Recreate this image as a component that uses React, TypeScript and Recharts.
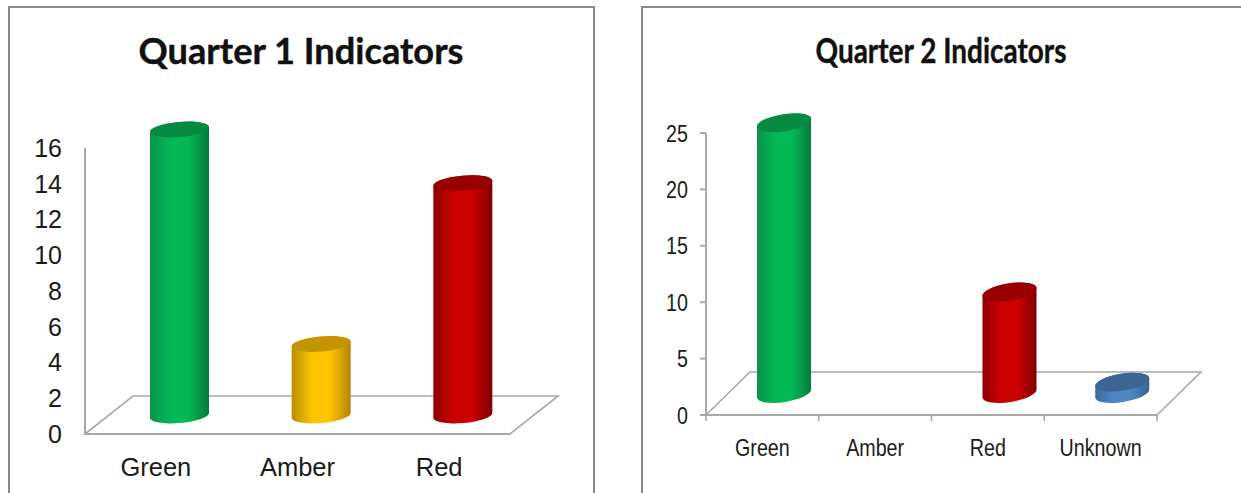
import { Bar, BarChart, XAxis, YAxis, usePlotArea } from "recharts"

const q1Categories = ["Green", "Amber", "Red"]
const q1Values = [16, 4, 13]
const q1Ticks = [0, 2, 4, 6, 8, 10, 12, 14, 16]

const q2Categories = ["Green", "Amber", "Red", "Unknown"]
const q2Values = [24, 0, 9, 1]
const q2Ticks = [0, 5, 10, 15, 20, 25]

// edge, middle, right edge, top cap
const shades: Record<string, string[]> = {
  Green: ["#07934a", "#04b856", "#067a3c", "#068a42"],
  Amber: ["#b88c00", "#ffc400", "#b08500", "#c49400"],
  Red: ["#8f0000", "#cc0000", "#7f0000", "#980000"],
  Unknown: ["#3f6a9c", "#4f87c6", "#3a6190", "#3b6593"],
}

const q1Data = q1Categories.map((name, i) => ({ name, value: q1Values[i] }))
const q2Data = q2Categories.map((name, i) => ({ name, value: q2Values[i] }))

const axisColor = "#a8a8a8"
const textColor = "#1a1a1a"

function Gradients({ id }: { id: string }) {
  return (
    <defs>
      {Object.keys(shades).map((k) => (
        <linearGradient key={k} id={id + k} x1="0" y1="0" x2="1" y2="0">
          <stop offset="0%" stopColor={shades[k][0]} />
          <stop offset="35%" stopColor={shades[k][1]} />
          <stop offset="65%" stopColor={shades[k][1]} />
          <stop offset="100%" stopColor={shades[k][2]} />
        </linearGradient>
      ))}
    </defs>
  )
}

function Cylinder(props: any) {
  const { x, y, width, height, payload, dx, dy, ry, tilt, id } = props
  if (!payload.value) return null
  const rad = (tilt * Math.PI) / 180
  const a = width / 2
  const rx = a / Math.cos(rad)
  const b = a * Math.tan(rad)
  const cx = x + a + dx
  const top = y + dy
  const bottom = y + height + dy
  const body =
    `M ${cx - a} ${top + b} L ${cx - a} ${bottom + b} ` +
    `A ${rx} ${ry} ${-tilt} 0 0 ${cx + a} ${bottom - b} ` +
    `L ${cx + a} ${top - b} A ${rx} ${ry} ${-tilt} 0 0 ${cx - a} ${top + b} Z`
  return (
    <g>
      <path d={body} fill={`url(#${id}${payload.name})`} />
      <ellipse cx={cx} cy={top} rx={rx} ry={ry} transform={`rotate(${-tilt} ${cx} ${top})`} fill={shades[payload.name][3]} />
    </g>
  )
}

function Floor({ dx, dy, count, ticks }: { dx: number; dy: number; count: number; ticks: boolean }) {
  const plot = usePlotArea()
  if (!plot) return null
  const x0 = plot.x
  const x1 = plot.x + plot.width
  const y0 = plot.y + plot.height
  const pts = `${x0},${y0} ${x0 + dx},${y0 - dy} ${x1 + dx},${y0 - dy} ${x1},${y0}`
  return (
    <g>
      <polygon points={pts} fill="none" stroke={axisColor} strokeWidth={1.6} />
      {ticks &&
        Array.from({ length: count + 1 }).map((_, i) => {
          const tx = x0 + (plot.width * i) / count
          return <line key={i} x1={tx} x2={tx} y1={y0} y2={y0 + 6} stroke={axisColor} strokeWidth={1.6} />
        })}
    </g>
  )
}

function Title(props: { x: number; y: number; size: number; length: number; children: string }) {
  return (
    <text
      x={props.x}
      y={props.y}
      textAnchor="middle"
      fontFamily="Lato"
      fontWeight={700}
      fontSize={props.size}
      textLength={props.length}
      lengthAdjust="spacingAndGlyphs"
      fill="#111"
      stroke="#111"
      strokeWidth={0.4}
    >
      {props.children}
    </text>
  )
}

// Q2 labels are condensed in the original, no narrow font here so squeeze them
function NarrowTick(props: any) {
  const { x, y, payload, textAnchor } = props
  return (
    <text
      transform={`translate(${x} ${y}) scale(0.82 1)`}
      textAnchor={textAnchor}
      dy="0.355em"
      fontFamily="Liberation Sans"
      fontSize={24}
      fill={textColor}
    >
      {payload.value}
    </text>
  )
}

export default function App() {
  return (
    <div style={{ position: "absolute", left: 0, top: 0, width: 1241, height: 493, overflow: "hidden", background: "#fff" }}>
      <div style={{ position: "absolute", left: 8, top: 6, width: 583, height: 520, border: "2px solid #8a8a8a" }} />
      <div style={{ position: "absolute", left: 641, top: 6, width: 640, height: 520, border: "2px solid #8a8a8a" }} />

      <div style={{ position: "absolute", left: 0, top: 0 }}>
        <BarChart width={620} height={493} data={q1Data} barSize={59} margin={{ top: 148, right: 110, bottom: 0, left: 10 }}>
          <Gradients id="a" />
          <Title x={301} y={64} size={36} length={325}>Quarter 1 Indicators</Title>
          <Floor dx={48} dy={38} count={3} ticks={false} />
          <XAxis
            dataKey="name"
            height={59}
            tickLine={false}
            tickMargin={18}
            stroke={axisColor}
            strokeWidth={2}
            tick={{ fontFamily: "Liberation Sans", fontSize: 25.5, fill: textColor }}
          />
          <YAxis
            width={75}
            domain={[0, 16]}
            ticks={q1Ticks}
            interval={0}
            tickLine={false}
            tickMargin={17}
            stroke={axisColor}
            strokeWidth={2}
            tick={{ fontFamily: "Liberation Sans", fontSize: 25, fill: textColor }}
          />
          <Bar
            dataKey="value"
            isAnimationActive={false}
            shape={(p: any) => <Cylinder {...p} dx={24} dy={-18.5} ry={7.5} tilt={5} id="a" />}
          />
        </BarChart>
      </div>

      <div style={{ position: "absolute", left: 620, top: 0 }}>
        <BarChart width={621} height={493} data={q2Data} barSize={54} margin={{ top: 133, right: 84, bottom: 0, left: 6 }}>
          <Gradients id="b" />
          <Title x={321} y={63} size={34} length={251}>Quarter 2 Indicators</Title>
          <Floor dx={44} dy={43} count={4} ticks={true} />
          <XAxis
            dataKey="name"
            height={78}
            tickLine={false}
            tickMargin={26}
            stroke={axisColor}
            strokeWidth={2}
            tick={<NarrowTick />}
          />
          <YAxis
            width={80}
            domain={[0, 25]}
            ticks={q2Ticks}
            interval={0}
            tickSize={6}
            tickMargin={12}
            stroke={axisColor}
            strokeWidth={2}
            tick={<NarrowTick />}
          />
          <Bar
            dataKey="value"
            isAnimationActive={false}
            shape={(p: any) => <Cylinder {...p} dx={22} dy={-21.5} ry={8.5} tilt={9} id="b" />}
          />
        </BarChart>
      </div>
    </div>
  )
}
